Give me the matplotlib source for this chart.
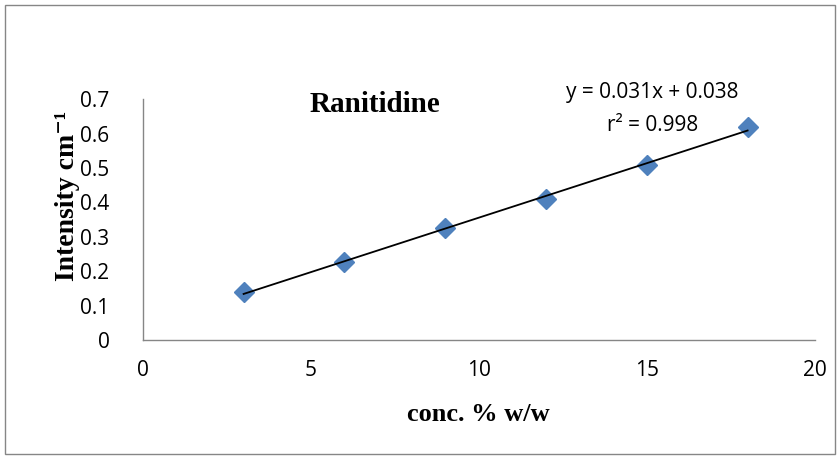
import numpy as np
import matplotlib
matplotlib.use("Agg")
from matplotlib import pyplot as plt
from matplotlib.patches import Rectangle

# data
conc = [3, 6, 9, 12, 15, 18]
intensity = [0.14, 0.226, 0.327, 0.409, 0.508, 0.619]
xticks = [0, 5, 10, 15, 20]
yticks = [0, 0.1, 0.2, 0.3, 0.4, 0.5, 0.6, 0.7]
ytick_labels = ["0", "0.1", "0.2", "0.3", "0.4", "0.5", "0.6", "0.7"]

tick_font = "Open Sans"
label_font = ["Liberation Serif", "DejaVu Serif"]

fig = plt.figure(figsize=(8.4, 4.59), dpi=100)
fig.patches.append(Rectangle((0.006, 0.01), 0.988, 0.98, transform=fig.transFigure,
                             fill=False, edgecolor="#868686", linewidth=1.0))
ax = fig.add_axes([0.170, 0.259, 0.800, 0.525])

ax.plot(conc, intensity, linestyle="none", marker="D", markersize=10,
        color="#4F81BD", zorder=2)

# linear trendline
slope, icpt = np.polyfit(conc, intensity, 1)
xs = np.array([conc[0], conc[-1]])
ax.plot(xs, slope * xs + icpt, color="black", linewidth=1.3, zorder=3)

ax.set_xlim(0, 20)
ax.set_ylim(0, 0.7)
ax.set_xticks(xticks)
ax.set_yticks(yticks)
ax.set_yticklabels(ytick_labels)
ax.tick_params(length=0, labelsize=15)
for lbl in ax.get_xticklabels() + ax.get_yticklabels():
    lbl.set_family(tick_font)
ax.tick_params(axis="x", pad=14)
ax.tick_params(axis="y", pad=24)

for s in ["top", "right"]:
    ax.spines[s].set_visible(False)
for s in ["left", "bottom"]:
    ax.spines[s].set_color("#868686")
    ax.spines[s].set_linewidth(1.0)

ax.set_xlabel("conc. % w/w", fontsize=19, fontweight="bold", family=label_font, labelpad=16)
ax.set_ylabel("Intensity cm\u207b\u00b9", fontsize=20, fontweight="bold", family=label_font)
ax.yaxis.set_label_coords(-0.093, 0.60)

ax.text(0.345, 1.035, "Ranitidine", transform=ax.transAxes, ha="center", va="top",
        fontsize=21, fontweight="bold", family=label_font)
ax.text(0.758, 1.07, "y = 0.031x + 0.038", transform=ax.transAxes, ha="center", va="top",
        fontsize=15, family=tick_font)
ax.text(0.758, 0.935, "r\u00b2 = 0.998", transform=ax.transAxes, ha="center", va="top",
        fontsize=15, family=tick_font)

plt.savefig("out.png")
